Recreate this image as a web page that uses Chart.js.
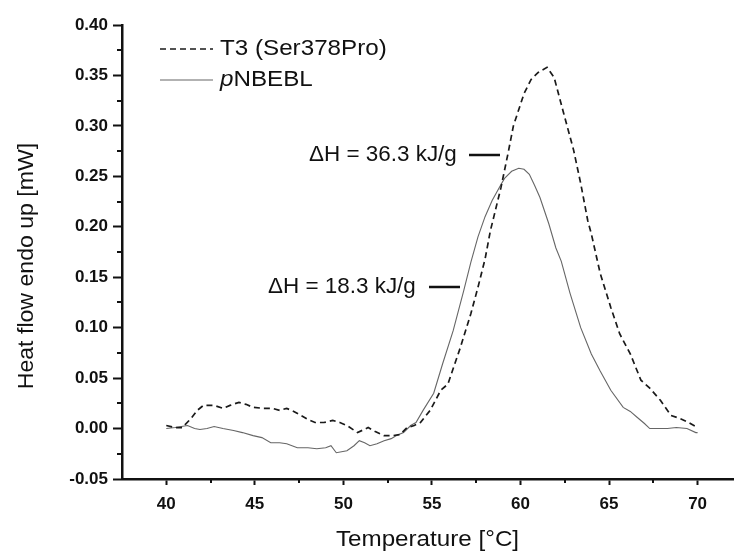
<!DOCTYPE html>
<html>
<head>
<meta charset="utf-8">
<script src="https://cdn.jsdelivr.net/npm/chart.js@4"></script>
<style>
  html, body { margin: 0; padding: 0; background: #fff; }
  canvas { display: block; }
</style>
</head>
<body>
<canvas id="dsc" width="734" height="553"></canvas>
<script>
// T3 (Ser378Pro) - dashed trace
const t3Temp = [40.0, 40.5, 40.9, 41.4, 41.75, 42.1, 42.7, 43.2, 43.6, 44.1, 44.5, 44.9, 45.5, 46.0, 46.4, 46.8,
    47.2, 47.6, 48.0, 48.4, 48.9, 49.4, 49.8, 50.2, 50.8, 51.4, 51.8, 52.3, 52.8, 53.2, 53.6, 54.0, 54.35,
    54.9, 55.5, 55.9, 56.6, 57.2, 57.6, 58.0, 58.3, 58.9, 59.3, 59.6, 60.2, 60.6, 61.0, 61.5, 61.9, 62.4,
    63.0, 63.4, 63.8, 64.0, 64.5, 65.1, 65.6, 66.2, 66.8, 67.3, 67.9, 68.5, 69.0, 69.5, 70.0];
const t3Flow = [0.003, 0.001, 0.001, 0.010, 0.018, 0.023, 0.023, 0.020, 0.023, 0.026, 0.024, 0.021, 0.020, 0.020, 0.018, 0.020,
    0.017, 0.013, 0.009, 0.006, 0.006, 0.008, 0.006, 0.003, -0.004, 0.001, -0.003, -0.007, -0.007, -0.006, 0.001, 0.003, 0.006,
    0.018, 0.038, 0.044, 0.080, 0.114, 0.140, 0.168, 0.196, 0.239, 0.273, 0.300, 0.332, 0.346, 0.353, 0.358, 0.348, 0.315,
    0.276, 0.243, 0.206, 0.193, 0.154, 0.120, 0.094, 0.074, 0.048, 0.040, 0.028, 0.013, 0.010, 0.006, 0.001];

// pNBEBL - solid trace
const pTemp = [40.0, 40.5, 41.2, 41.6, 41.9, 42.3, 42.7, 43.2, 43.8, 44.3, 44.9, 45.4, 45.9, 46.4, 46.8, 47.4,
    48.0, 48.5, 49.0, 49.3, 49.6, 50.2, 50.6, 50.9, 51.2, 51.5, 51.9, 52.3, 52.7, 53.0, 53.4, 53.8, 54.1,
    54.5, 55.1, 55.6, 56.2, 56.8, 57.2, 57.6, 58.0, 58.4, 58.9, 59.1, 59.5, 59.9, 60.2, 60.5, 60.8, 61.1,
    61.6, 62.0, 62.3, 62.8, 63.4, 64.0, 64.5, 65.1, 65.8, 66.2, 66.6, 67.0, 67.3, 67.8, 68.3, 68.8, 69.4, 69.9, 70.0];
const pFlow = [0.000, 0.001, 0.003, 0.000, -0.001, 0.000, 0.002, 0.000, -0.002, -0.004, -0.007, -0.009, -0.014, -0.014, -0.015, -0.019,
    -0.019, -0.020, -0.019, -0.017, -0.024, -0.022, -0.017, -0.012, -0.014, -0.017, -0.015, -0.012, -0.010, -0.007, -0.004, 0.003, 0.006,
    0.018, 0.035, 0.064, 0.097, 0.137, 0.165, 0.190, 0.210, 0.226, 0.242, 0.248, 0.255, 0.258, 0.257, 0.252, 0.241, 0.229,
    0.203, 0.179, 0.166, 0.134, 0.100, 0.074, 0.057, 0.038, 0.021, 0.017, 0.011, 0.005, 0.000, 0.000, 0.000, 0.001, 0.000, -0.004, -0.004];

const xTicks = [40, 45, 50, 55, 60, 65, 70];
const xMinorTicks = [42.5, 47.5, 52.5, 57.5, 62.5, 67.5];
const yTicks = [-0.05, 0.00, 0.05, 0.10, 0.15, 0.20, 0.25, 0.30, 0.35, 0.40];
const yMinorTicks = [-0.025, 0.025, 0.075, 0.125, 0.175, 0.225, 0.275, 0.325, 0.375];

const seriesNames = ['T3 (Ser378Pro)', 'pNBEBL'];
const enthalpyLabels = ['\u0394H = 36.3 kJ/g', '\u0394H = 18.3 kJ/g'];

const INK = '#111';
const FONT = '"Liberation Sans", Arial, sans-serif';

const toPoints = (xs, ys) => xs.map((x, i) => ({x, y: ys[i]}));

const drawText = (ctx, text, x, y, opts = {}) => {
    const {size = 22, stretch = 1, align = 'left', style = ''} = opts;
    ctx.save();
    ctx.font = `${style} ${size}px ${FONT}`;
    ctx.fillStyle = INK;
    ctx.textBaseline = 'middle';
    const w = ctx.measureText(text).width * stretch;
    let left = x;
    if (align === 'center') left = x - w / 2;
    if (align === 'right') left = x - w;
    ctx.translate(left, y);
    ctx.scale(stretch, 1);
    ctx.textAlign = 'left';
    ctx.fillText(text, 0, 0);
    ctx.restore();
    return w;
};

const decorations = {
    id: 'decorations',
    afterDraw(chart) {
        const {ctx, scales: {x, y}} = chart;

        // minor ticks
        ctx.save();
        ctx.strokeStyle = INK;
        ctx.lineWidth = 2;
        ctx.beginPath();
        xMinorTicks.forEach(v => {
            const px = Math.round(x.getPixelForValue(v));
            ctx.moveTo(px, x.top);
            ctx.lineTo(px, x.top + 4);
        });
        yMinorTicks.forEach(v => {
            const py = Math.round(y.getPixelForValue(v));
            ctx.moveTo(y.right, py);
            ctx.lineTo(y.right - 5, py);
        });
        ctx.stroke();
        ctx.restore();

        // legend, styled from the datasets
        const rows = [49, 80];
        chart.data.datasets.forEach((ds, i) => {
            ctx.save();
            ctx.strokeStyle = ds.borderColor;
            ctx.lineWidth = ds.borderWidth;
            ctx.setLineDash(ds.borderDash || []);
            ctx.beginPath();
            ctx.moveTo(160, rows[i]);
            ctx.lineTo(213, rows[i]);
            ctx.stroke();
            ctx.restore();
        });
        drawText(ctx, seriesNames[0], 220, rows[0], {stretch: 1.1});
        const pw = drawText(ctx, 'p', 220, rows[1], {stretch: 1.1, style: 'italic'});
        drawText(ctx, seriesNames[1].slice(1), 220 + pw, rows[1], {stretch: 1.1});

        // enthalpy annotations
        const notes = [
            {text: enthalpyLabels[0], x: 309, y: 155, from: 469, to: 500},
            {text: enthalpyLabels[1], x: 268, y: 287, from: 429, to: 460}
        ];
        notes.forEach(n => {
            drawText(ctx, n.text, n.x, n.y, {stretch: 1.02});
            ctx.save();
            ctx.strokeStyle = INK;
            ctx.lineWidth = 2.5;
            ctx.beginPath();
            ctx.moveTo(n.from, n.y);
            ctx.lineTo(n.to, n.y);
            ctx.stroke();
            ctx.restore();
        });

        // axis titles
        drawText(ctx, 'Temperature [\u00b0C]', (x.left + x.right) / 2, 540, {stretch: 1.1, align: 'center'});
        ctx.save();
        ctx.translate(27, 266);
        ctx.rotate(-Math.PI / 2);
        drawText(ctx, 'Heat flow endo up [mW]', 0, 0, {stretch: 1.05, align: 'center'});
        ctx.restore();
    }
};

const tickFont = {family: FONT, size: 17, weight: 'bold'};

new Chart(document.getElementById('dsc'), {
    type: 'line',
    data: {
        datasets: [{
            label: seriesNames[0],
            data: toPoints(t3Temp, t3Flow),
            borderColor: '#1a1a1a',
            borderWidth: 1.7,
            borderDash: [6, 4],
            pointRadius: 0,
            tension: 0,
            fill: false
        }, {
            label: seriesNames[1],
            data: toPoints(pTemp, pFlow),
            borderColor: '#666',
            borderWidth: 1.1,
            pointRadius: 0,
            tension: 0,
            fill: false
        }]
    },
    options: {
        responsive: false,
        animation: false,
        layout: {padding: {top: 25, right: 1, left: 0, bottom: 0}},
        plugins: {legend: {display: false}, tooltip: {enabled: false}},
        scales: {
            x: {
                type: 'linear',
                min: 37.5,
                max: 72,
                afterBuildTicks: s => { s.ticks = xTicks.map(value => ({value})); },
                afterFit: s => { s.height = 74; },
                ticks: {font: tickFont, color: INK, padding: 9, maxRotation: 0, autoSkip: false, callback: v => String(v)},
                grid: {drawOnChartArea: false, tickLength: 6, tickWidth: 2, tickColor: INK},
                border: {width: 2.5, color: INK}
            },
            y: {
                min: -0.05,
                max: 0.40,
                afterBuildTicks: s => { s.ticks = yTicks.map(value => ({value})); },
                afterFit: s => { s.width = 122; },
                ticks: {font: tickFont, color: INK, padding: 5, autoSkip: false, callback: v => v.toFixed(2)},
                grid: {drawOnChartArea: false, tickLength: 9, tickWidth: 2, tickColor: INK},
                border: {width: 2.5, color: INK}
            }
        }
    },
    plugins: [decorations]
});
</script>
</body>
</html>
